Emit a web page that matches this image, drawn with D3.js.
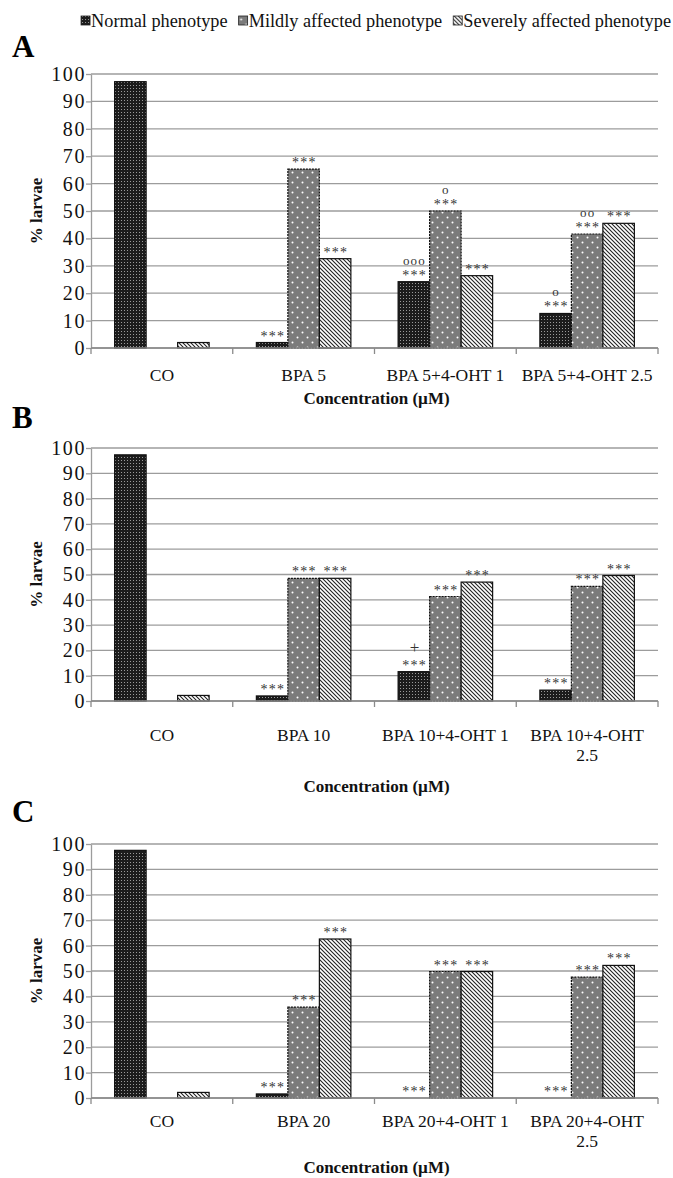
<!DOCTYPE html>
<html>
<head>
<meta charset="utf-8">
<script src="https://cdn.jsdelivr.net/npm/d3@7"></script>
<style>
  body { margin: 0; background: #fff; }
  svg { display: block; font-family: "Liberation Serif", "Times New Roman", serif; }
</style>
</head>
<body>
<div id="chart"></div>
<script>
// Daten
const series = ["Normal phenotype", "Mildly affected phenotype", "Severely affected phenotype"];
const yTicks = [0, 10, 20, 30, 40, 50, 60, 70, 80, 90, 100];

const categoriesA = ["CO", "BPA 5", "BPA 5+4-OHT 1", "BPA 5+4-OHT 2.5"];
const normalA = [97.2, 2, 24.2, 12.6];
const mildA = [0, 65.3, 50, 41.6];
const severeA = [2, 32.6, 26.4, 45.5];
const starsA = [["", "", ""], ["***", "***", "***"], ["***", "***", "***"], ["***", "***", "***"]];
const marksA = [["", "", ""], ["", "", ""], ["ooo", "o", ""], ["o", "oo", ""]];

const categoriesB = ["CO", "BPA 10", "BPA 10+4-OHT 1", "BPA 10+4-OHT 2.5"];
const normalB = [97.3, 2, 11.6, 4.3];
const mildB = [0, 48.5, 41.3, 45.3];
const severeB = [2.2, 48.5, 47, 49.6];
const starsB = [["", "", ""], ["***", "***", "***"], ["***", "***", "***"], ["***", "***", "***"]];
const marksB = [["", "", ""], ["", "", ""], ["+", "", ""], ["", "", ""]];

const categoriesC = ["CO", "BPA 20", "BPA 20+4-OHT 1", "BPA 20+4-OHT 2.5"];
const normalC = [97.5, 1.6, 0, 0];
const mildC = [0, 35.8, 49.8, 47.6];
const severeC = [2.2, 62.6, 49.8, 52.2];
const starsC = [["", "", ""], ["***", "***", "***"], ["***", "***", "***"], ["***", "***", "***"]];
const marksC = [["", "", ""], ["", "", ""], ["", "", ""], ["", "", ""]];

const xTitle = "Concentration (µM)";
const yTitle = "% larvae";

// Layout (nur Positionen, keine Werte)
const width = 673, height = 1178;
const axisX = 91, plotRight = 658;
const panels = [
  { letter: "A", cats: categoriesA, vals: [normalA, mildA, severeA], stars: starsA, marks: marksA,
    top: 74, bottom: 348, letterY: 57, labelGap: 33, titleY: 404 },
  { letter: "B", cats: categoriesB, vals: [normalB, mildB, severeB], stars: starsB, marks: marksB,
    top: 448, bottom: 701, letterY: 428, labelGap: 40, titleY: 792 },
  { letter: "C", cats: categoriesC, vals: [normalC, mildC, severeC], stars: starsC, marks: marksC,
    top: 844, bottom: 1098, letterY: 822, labelGap: 29, titleY: 1173 }
];

const svg = d3.select("#chart").append("svg")
  .attr("width", width)
  .attr("height", height)
  .attr("viewBox", `0 0 ${width} ${height}`);

// Muster für die drei Balkenarten
const defs = svg.append("defs");
const pNormal = defs.append("pattern").attr("id", "p0").attr("patternUnits", "userSpaceOnUse")
  .attr("width", 3).attr("height", 3);
pNormal.append("rect").attr("width", 3).attr("height", 3).attr("fill", "#1c1c1c");
pNormal.append("rect").attr("x", 1).attr("y", 1).attr("width", 1).attr("height", 1).attr("fill", "#9a9a9a");

const pMild = defs.append("pattern").attr("id", "p1").attr("patternUnits", "userSpaceOnUse")
  .attr("width", 10).attr("height", 10);
pMild.append("rect").attr("width", 10).attr("height", 10).attr("fill", "#7b7b7b");
pMild.append("circle").attr("cx", 2.5).attr("cy", 2.5).attr("r", 1).attr("fill", "#fff");
pMild.append("circle").attr("cx", 7.5).attr("cy", 7.5).attr("r", 1).attr("fill", "#fff");

const pSevere = defs.append("pattern").attr("id", "p2").attr("patternUnits", "userSpaceOnUse")
  .attr("width", 4).attr("height", 4);
pSevere.append("rect").attr("width", 4).attr("height", 4).attr("fill", "#fff");
pSevere.append("path").attr("d", "M-1,-1 L5,5 M3,-1 L5,1 M-1,3 L1,5")
  .attr("stroke", "#222").attr("stroke-width", 1.1);

const fills = ["url(#p0)", "url(#p1)", "url(#p2)"];
const dashes = [null, "2,1", null];

// Legende oben, rechtsbündig
const legend = svg.append("g").attr("class", "legend");
let lx = 0;
series.forEach((s, i) => {
  const item = legend.append("g").attr("transform", `translate(${lx},0)`);
  item.append("rect").attr("x", 0).attr("y", -11).attr("width", 9).attr("height", 9)
    .attr("fill", fills[i]).attr("stroke", "#222").attr("stroke-width", 0.8);
  const t = item.append("text").attr("x", 10).attr("y", 0)
    .attr("font-size", 18.3).attr("fill", "#111").text(s);
  lx += 10 + t.node().getComputedTextLength() + 11;
});
legend.attr("transform", `translate(${671 - (lx - 11)}, 27)`);

// Hilfsfunktion: Kategorienamen umbrechen, wenn sie zu breit sind
function wrap(textSel, maxW) {
  textSel.each(function () {
    const text = d3.select(this);
    const words = text.text().split(" ");
    text.text(null);
    let line = [];
    let tspan = text.append("tspan").attr("x", 0).attr("dy", 0);
    words.forEach(w => {
      line.push(w);
      tspan.text(line.join(" "));
      if (tspan.node().getComputedTextLength() > maxW && line.length > 1) {
        line.pop();
        tspan.text(line.join(" "));
        line = [w];
        tspan = text.append("tspan").attr("x", 0).attr("dy", "1.17em").text(w);
      }
    });
  });
}

panels.forEach(p => {
  const g = svg.append("g").attr("class", "panel-" + p.letter);

  const y = d3.scaleLinear().domain([0, 100]).range([p.bottom, p.top]);
  const x = d3.scaleBand().domain(p.cats).range([axisX, plotRight]).padding(0);
  const xs = d3.scaleBand().domain(d3.range(series.length))
    .range([0, x.bandwidth()]).paddingInner(0).paddingOuter(0.75);

  // Gitterlinien
  g.append("g").selectAll("line").data(yTicks).join("line")
    .attr("x1", axisX).attr("x2", plotRight)
    .attr("y1", d => y(d)).attr("y2", d => y(d))
    .attr("stroke", "#9c9c9c").attr("stroke-width", 1.3);

  // Y-Achse
  const yAxis = g.append("g").attr("transform", `translate(${axisX},0)`)
    .call(d3.axisLeft(y).tickValues(yTicks).tickSize(5).tickPadding(0).tickSizeOuter(0));
  yAxis.select(".domain").attr("stroke", "#9c9c9c").attr("stroke-width", 1.3);
  yAxis.selectAll(".tick line").attr("stroke", "#9c9c9c").attr("stroke-width", 1.3);
  yAxis.selectAll(".tick text").attr("font-size", 20).attr("letter-spacing", 1.6)
    .attr("font-family", "Liberation Serif, serif").attr("fill", "#111");

  // Balken
  const rows = [];
  p.cats.forEach((c, ci) => series.forEach((s, si) => {
    rows.push({ cat: c, ci, si, v: p.vals[si][ci], star: p.stars[ci][si], mark: p.marks[ci][si] });
  }));

  g.append("g").selectAll("rect").data(rows.filter(d => d.v > 0)).join("rect")
    .attr("x", d => x(d.cat) + xs(d.si))
    .attr("y", d => y(d.v))
    .attr("width", xs.bandwidth())
    .attr("height", d => y(0) - y(d.v))
    .attr("fill", d => fills[d.si])
    .attr("stroke", "#111")
    .attr("stroke-width", 1.2)
    .attr("stroke-dasharray", d => dashes[d.si]);

  // X-Achse mit Trennstrichen zwischen den Kategorien
  g.append("line").attr("x1", axisX).attr("x2", plotRight)
    .attr("y1", y(0)).attr("y2", y(0))
    .attr("stroke", "#8a8a8a").attr("stroke-width", 1.6);
  const bounds = p.cats.map(c => x(c)).concat([x.range()[1]]);
  g.append("g").selectAll("line").data(bounds).join("line")
    .attr("x1", d => d).attr("x2", d => d)
    .attr("y1", y(0)).attr("y2", y(0) + 6)
    .attr("stroke", "#8a8a8a").attr("stroke-width", 1.3);

  const xAxis = g.append("g").attr("transform", `translate(0,${y(0) + p.labelGap})`)
    .call(d3.axisBottom(x).tickSize(0).tickPadding(0));
  xAxis.select(".domain").remove();
  xAxis.selectAll(".tick text")
    .attr("font-size", 17.5).attr("font-family", "Liberation Serif, serif")
    .attr("fill", "#111").attr("dy", 0).attr("y", 0)
    .call(wrap, 138);

  // Signifikanz-Sterne und Zeichen
  const ann = g.append("g");
  ann.selectAll("text.star").data(rows.filter(d => d.star)).join("text")
    .attr("class", "star")
    .attr("x", d => x(d.cat) + xs(d.si) + xs.bandwidth() / 2 + 0.7)
    .attr("y", d => y(d.v) - 2)
    .attr("text-anchor", "middle")
    .attr("font-size", 14).attr("letter-spacing", 1.2).attr("fill", "#333")
    .text(d => d.star);
  ann.selectAll("text.mark").data(rows.filter(d => d.mark)).join("text")
    .attr("class", "mark")
    .attr("x", d => x(d.cat) + xs(d.si) + xs.bandwidth() / 2 + 0.6)
    .attr("y", d => y(d.v) - (d.mark === "+" ? 19 : 17))
    .attr("text-anchor", "middle")
    .attr("font-size", d => d.mark === "+" ? 17 : 13)
    .attr("letter-spacing", d => d.mark === "+" ? 0 : 1.2)
    .attr("fill", "#333")
    .text(d => d.mark);

  // Titel
  svg.append("text").attr("x", (axisX + plotRight) / 2 + 2).attr("y", p.titleY)
    .attr("text-anchor", "middle").attr("font-size", 17).attr("font-weight", "bold")
    .attr("fill", "#111").text(xTitle);
  svg.append("text")
    .attr("transform", `translate(42,${(p.top + p.bottom) / 2}) rotate(-90)`)
    .attr("text-anchor", "middle").attr("font-size", 17).attr("font-weight", "bold")
    .attr("fill", "#111").text(yTitle);
  svg.append("text").attr("x", 12).attr("y", p.letterY)
    .attr("font-size", 31).attr("font-weight", "bold").attr("fill", "#000")
    .text(p.letter);
});
</script>
</body>
</html>
